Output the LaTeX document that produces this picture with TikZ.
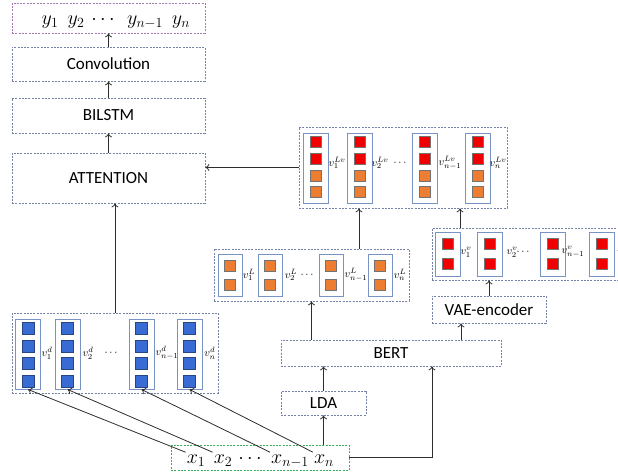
\documentclass[tikz,border=0pt]{standalone}
\usepackage{fix-cm}
\usepackage{fontspec}
\setsansfont{Carlito}
\usetikzlibrary{arrows.meta}
\definecolor{dashgray}{RGB}{115,130,165}
\definecolor{dashpurple}{RGB}{165,120,180}
\definecolor{dashgreen}{RGB}{60,175,90}
\definecolor{colblue}{RGB}{120,148,196}
\definecolor{sqblue}{RGB}{56,108,212}
\definecolor{sqblueedge}{RGB}{40,70,130}
\definecolor{sqorange}{RGB}{237,125,49}
\definecolor{sqred}{RGB}{240,0,0}
\definecolor{sqedge}{RGB}{115,115,115}
\definecolor{arrgray}{RGB}{45,45,45}

\begin{document}
\begin{tikzpicture}[x=1pt,y=-1pt,
  dbox/.style={draw=dashgray, dash pattern=on 2pt off 1.3pt, line width=0.7pt, inner sep=0pt},
  lbl/.style={font=\sffamily\fontsize{17}{20}\selectfont},
  colbox/.style={draw=colblue, line width=0.9pt, fill=white, minimum width=25pt, inner sep=0pt},
  sq/.style={minimum size=11pt, inner sep=0pt, line width=0.5pt, draw=sqedge},
  bsq/.style={sq, fill=sqblue, draw=sqblueedge, minimum size=12pt},
  osq/.style={sq, fill=sqorange},
  rsq/.style={sq, fill=sqred},
  vlab/.style={font=\fontsize{11}{12}\selectfont, inner sep=0pt},
  big/.style={font=\fontsize{20}{22}\selectfont, inner sep=0pt, anchor=base},
  arr/.style={-{To[length=4pt,width=7pt]}, line width=0.8pt, draw=arrgray}
]
\useasboundingbox (0,0) rectangle (618,474);
\clip (0,0) rectangle (618,474);

% ---------- output stack ----------
\node[dbox, draw=dashpurple, minimum width=193pt, minimum height=30pt] (ybox) at (108.5,18) {};
\node[big] (y1) at (50,24) {$y_1$};
\node[big] (y2) at (76,24) {$y_2$};
\node[big] (ydots) at (103,24) {$\cdots$};
\node[big] (yn1) at (145,24) {$y_{n-1}$};
\node[big] (yn) at (181,24) {$y_n$};

\node[dbox, lbl, minimum width=193pt, minimum height=34pt] (conv) at (108.5,64) {Convolution};
\node[dbox, lbl, minimum width=193pt, minimum height=35pt] (bilstm) at (108.5,115.5) {BILSTM};
\node[dbox, lbl, minimum width=193pt, minimum height=50pt] (att) at (108.5,178) {ATTENTION};

% ---------- word vectors d ----------
\node[dbox, minimum width=206pt, minimum height=80pt] (dbx) at (115,353) {};
\foreach \i/\cx in {1/28,2/67.5,3/141.5,4/189.5} {
  \node[colbox, minimum height=70pt] (dc\i) at (\cx,354) {};
  \foreach \j/\sy in {1/328.5,2/346,3/363.5,4/381}
    \node[bsq] (dc\i s\j) at (\cx,\sy) {};
}
\node[vlab] (dl1) at (47,353) {$v_1^d$};
\node[vlab] (dl2) at (88,353) {$v_2^d$};
\node[vlab] (dld) at (111,353) {$\cdots$};
\node[vlab] (dl3) at (167,353) {$v_{n-1}^d$};
\node[vlab] (dl4) at (210,353) {$v_n^d$};

% ---------- input sequence ----------
\node[dbox, draw=dashgreen, minimum width=178pt, minimum height=25pt] (xbox) at (260,457.5) {};
\node[big] (x1) at (196,463) {$x_1$};
\node[big] (x2) at (223,463) {$x_2$};
\node[big] (xdots) at (250,463) {$\cdots$};
\node[big] (xn1) at (290,463) {$x_{n-1}$};
\node[big] (xn) at (324,463) {$x_n$};

% ---------- encoders ----------
\node[dbox, lbl, minimum width=85pt, minimum height=24pt] (lda) at (323.5,403) {LDA};
\node[dbox, lbl, minimum width=220pt, minimum height=26pt] (bert) at (391,353) {BERT};
\node[dbox, lbl, minimum width=114pt, minimum height=27pt] (vae) at (489,309.5) {VAE-encoder};

% ---------- topic vectors L ----------
\node[dbox, minimum width=195pt, minimum height=52pt] (lbox) at (311.5,275) {};
\foreach \i/\cx in {1/230,2/270,3/331,4/380} {
  \node[colbox, minimum width=24pt, minimum height=42pt] (lc\i) at (\cx,275) {};
  \node[osq] (lc\i a) at (\cx,266) {};
  \node[osq] (lc\i b) at (\cx,285) {};
}
\node[vlab] (ll1) at (249,275) {$v_1^L$};
\node[vlab] (ll2) at (291,275) {$v_2^L$};
\node[vlab] (lld) at (307,275) {$\cdots$};
\node[vlab] (ll3) at (356,275) {$v_{n-1}^L$};
\node[vlab] (ll4) at (400,275) {$v_n^L$};

% ---------- latent vectors v ----------
\node[dbox, minimum width=208pt, minimum height=52pt] (vbox) at (536,254) {};
\foreach \i/\cx in {1/448,2/489.5,3/552.5,4/601.5} {
  \node[colbox, minimum height=44pt] (vc\i) at (\cx,254) {};
  \node[rsq] (vc\i a) at (\cx,244) {};
  \node[rsq] (vc\i b) at (\cx,264) {};
}
\node[vlab] (vl1) at (466,252) {$v_1^v$};
\node[vlab] (vl2) at (512,252) {$v_2^v$};
\node[vlab] (vld) at (523,252) {$\cdots$};
\node[vlab] (vl3) at (573,252) {$v_{n-1}^v$};
\node[vlab] (vl4) at (623,252) {$v_n^v$};

% ---------- fused vectors Lv ----------
\node[dbox, minimum width=208pt, minimum height=81pt] (lvbox) at (403,167.5) {};
\foreach \i/\cx in {1/316,2/359.5,3/424.5,4/477.5} {
  \node[colbox, minimum height=70pt] (fc\i) at (\cx,168) {};
  \node[rsq] (fc\i a) at (\cx,142) {};
  \node[rsq] (fc\i b) at (\cx,158.5) {};
  \node[osq] (fc\i c) at (\cx,175.5) {};
  \node[osq] (fc\i d) at (\cx,192) {};
}
\node[vlab] (fl1) at (337,163) {$v_1^{Lv}$};
\node[vlab] (fl2) at (380,163) {$v_2^{Lv}$};
\node[vlab] (fld) at (400,163) {$\cdots$};
\node[vlab] (fl3) at (450,163) {$v_{n-1}^{Lv}$};
\node[vlab] (fl4) at (498,163) {$v_n^{Lv}$};

% ---------- connectors ----------
\draw[arr] (conv.north) -- (ybox.south);
\draw[arr] (bilstm.north) -- (conv.south);
\draw[arr] (att.north) -- (bilstm.south);
\draw[arr] (dbx.north) -- (dbx.north |- att.south);
\draw[arr] (lvbox.west) -- (lvbox.west -| att.east);
\draw[arr] ([xshift=47.5pt]lbox.north) -- ([xshift=47.5pt]lbox.north |- lvbox.south);
\draw[arr] ([xshift=-76pt]vbox.north) -- ([xshift=-76pt]vbox.north |- lvbox.south);
\draw[arr] (bert.north -| lbox.south) -- (lbox.south);
\draw[arr] ([xshift=-28pt]vae.south |- bert.north) -- ([xshift=-28pt]vae.south);
\draw[arr] (vae.north) -- (vae.north |- vbox.south);
\draw[arr] (lda.north) -- (lda.north |- bert.south);
\draw[arr] (xbox.north -| lda.south) -- (lda.south);
\draw[arr] (xbox.east) -| ([xshift=41pt]bert.south);

\draw[arr] ([xshift=-1pt,yshift=2pt]x1.north west) -- (dc1.south);
\draw[arr] ([xshift=-1pt,yshift=2pt]x2.north west) -- (dc2.south);
\draw[arr] ([xshift=-1pt,yshift=2pt]xn1.north west) -- (dc3.south);
\draw[arr] ([xshift=-1pt,yshift=2pt]xn.north west) -- (dc4.south);
\end{tikzpicture}
\end{document}
